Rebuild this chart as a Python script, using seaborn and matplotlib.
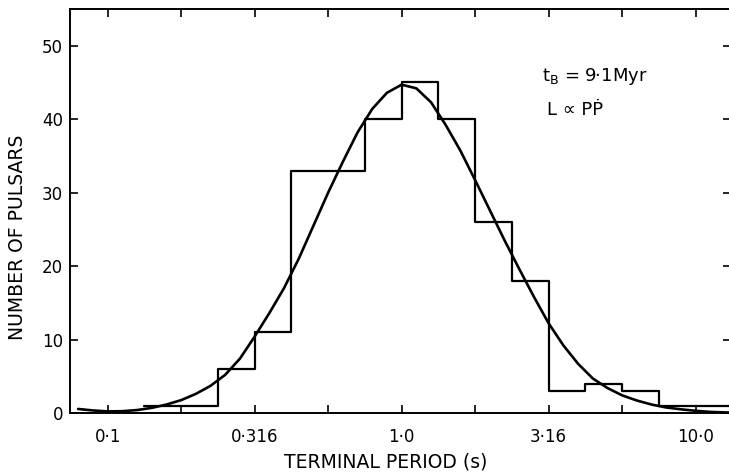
import numpy as np
import pandas as pd
import matplotlib
matplotlib.use("Agg")
import matplotlib.pyplot as plt
from matplotlib.ticker import NullLocator
import seaborn as sns

# ---- data ----
# histogram: bins are 1/8 decade wide, given by their edges in log10(P / s)
bin_edges_log10 = [-0.875, -0.75, -0.625, -0.5, -0.375, -0.25, -0.125, 0.0,
                   0.125, 0.25, 0.375, 0.5, 0.625, 0.75, 0.875, 1.0, 1.125]
bin_counts = [1, 1, 6, 11, 33, 33, 40, 45, 40, 26, 18, 3, 4, 3, 1, 1]

# model curve (x in log10 of period)
curve_log10_period = [-1.10, -1.05, -1.00, -0.95, -0.90, -0.85, -0.80, -0.75,
                      -0.70, -0.65, -0.60, -0.55, -0.50, -0.45, -0.40, -0.35,
                      -0.30, -0.25, -0.20, -0.15, -0.10, -0.05, 0.00, 0.05,
                      0.10, 0.15, 0.20, 0.25, 0.30, 0.35, 0.40, 0.45,
                      0.50, 0.55, 0.60, 0.65, 0.70, 0.75, 0.80, 0.85,
                      0.90, 0.95, 1.00, 1.05, 1.12]
curve_count = [0.55, 0.35, 0.22, 0.25, 0.40, 0.70, 1.15, 1.75,
               2.6, 3.7, 5.2, 7.4, 10.4, 13.6, 17.0, 21.0,
               25.5, 30.0, 34.2, 38.2, 41.4, 43.6, 44.7, 44.2,
               42.3, 39.2, 35.7, 31.7, 27.6, 23.5, 19.6, 15.8,
               12.2, 9.2, 6.7, 4.7, 3.4, 2.4, 1.7, 1.15,
               0.75, 0.5, 0.3, 0.15, 0.05]

xtick_values = [0.1, 0.178, 0.316, 0.562, 1.0, 1.78, 3.16, 5.62, 10.0]
xtick_labels = ["0\u00b71", "", "0\u00b7316", "", "1\u00b70", "", "3\u00b716", "", "10\u00b70"]
ytick_values = [0, 10, 20, 30, 40, 50]
ytick_labels = ["0", "10", "20", "30", "40", "50"]

x_label = "TERMINAL PERIOD (s)"
y_label = "NUMBER OF PULSARS"
note_1 = "$\\mathregular{t_B}$ = 9\u00b71Myr"
note_2 = "L \u221d P\u1e56"

# ---- build ----
edges = np.array(bin_edges_log10)
centers_period = 10 ** ((edges[:-1] + edges[1:]) / 2)
hist_df = pd.DataFrame({"period": centers_period, "count": bin_counts})
curve_df = pd.DataFrame({"period": 10 ** np.array(curve_log10_period),
                         "count": curve_count})

sns.set_style("ticks")
plt.rcParams["font.family"] = ["DejaVu Sans"]
plt.rcParams["text.color"] = "black"
plt.rcParams["axes.labelcolor"] = "black"
plt.rcParams["xtick.color"] = "black"
plt.rcParams["ytick.color"] = "black"

fig = plt.figure(figsize=(7.29, 4.75), dpi=100)
ax = fig.add_axes([0.096, 0.1305, 0.907, 0.8505])

sns.histplot(data=hist_df, x="period", weights="count", bins=bin_edges_log10,
             log_scale=True, element="step", fill=False, color="black",
             linewidth=1.6, ax=ax)
sns.lineplot(data=curve_df, x="period", y="count", color="black",
             linewidth=1.9, ax=ax)

ax.set_xlim(0.0745, 13.2)
ax.set_ylim(0, 55)

ax.set_xticks(xtick_values)
ax.set_xticklabels(xtick_labels)
ax.xaxis.set_minor_locator(NullLocator())
ax.set_yticks(ytick_values)
ax.set_yticklabels(ytick_labels)

ax.tick_params(axis="both", which="both", direction="in", length=6, width=1.2,
               top=True, right=True, colors="black", labelcolor="black",
               labelsize=12)
ax.tick_params(axis="x", pad=11)
ax.tick_params(axis="y", pad=5)
for s in ax.spines.values():
    s.set_linewidth(1.4)
    s.set_color("black")

ax.set_xlabel(x_label, fontsize=13.5, color="black")
ax.set_ylabel(y_label, fontsize=13.5, color="black")
ax.xaxis.set_label_coords(0.478, -0.121)
ax.xaxis.label.set_va("center")
ax.yaxis.set_label_coords(-0.08, 0.436)
ax.yaxis.label.set_va("center")

ax.text(0.714, 0.832, note_1, transform=ax.transAxes, fontsize=13,
        ha="left", va="center", color="black")
ax.text(0.722, 0.75, note_2, transform=ax.transAxes, fontsize=13,
        ha="left", va="center", color="black")

fig.savefig("out.png", dpi=100)
